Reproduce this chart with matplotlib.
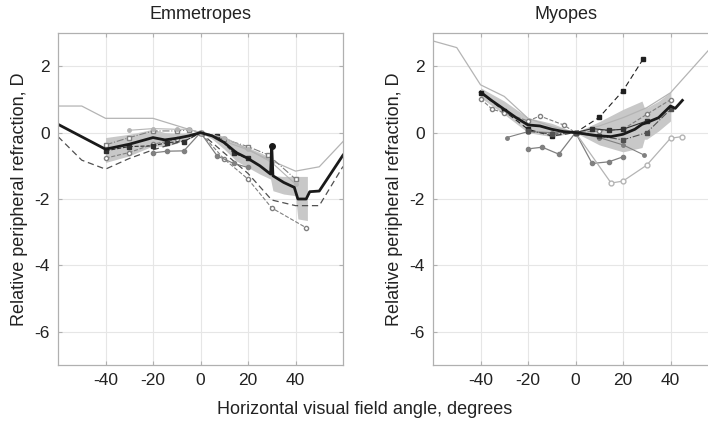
import matplotlib
matplotlib.use("Agg")
import matplotlib.pyplot as plt

plt.rcParams['font.family'] = ['Liberation Sans', 'DejaVu Sans']
plt.rcParams['axes.unicode_minus'] = False

# ---- Emmetropes ----
em_mean_x = [-60, -40, -30, -20, -15, -10, -5, 0, 5, 10, 15, 20, 25, 29.5, 30, 30.5, 35, 39.5, 41, 44.5, 46, 50, 60]
em_mean_y = [0.25, -0.5, -0.35, -0.15, -0.22, -0.17, -0.1, 0, -0.1, -0.3, -0.6, -0.78, -1.0, -1.25, -0.4, -1.3, -1.5, -1.65, -2.0, -2.0, -1.78, -1.76, -0.68]
em_band_x = [-40, -30, -20, -15, -10, -5, 0, 5, 10, 15, 20, 25, 29.5, 30.5, 35, 40, 41, 45]
em_band_hi = [-0.15, -0.05, 0.1, 0.0, -0.02, 0.0, 0, -0.05, -0.12, -0.3, -0.45, -0.6, -0.75, -1.3, -1.32, -1.32, -1.32, -1.32]
em_band_lo = [-0.9, -0.7, -0.4, -0.42, -0.32, -0.15, 0, -0.2, -0.5, -0.85, -1.05, -1.25, -1.4, -1.75, -1.85, -1.9, -2.6, -2.65]

em_up_x = [-60, -50, -40, -20, -5, 0, 20, 30, 40, 50, 60]
em_up_y = [0.8, 0.8, 0.43, 0.43, 0.1, 0, -0.52, -0.85, -1.16, -1.03, -0.27]
em_low_x = [-60, -50, -40, -30, -20, -5, 0, 20, 30, 40, 50, 60]
em_low_y = [-0.12, -0.83, -1.1, -0.78, -0.52, -0.2, 0, -1.23, -2.03, -2.2, -2.2, -1.02]
em_oc_x = [-40, -30, -20, -10, 0, 10, 20, 30, 44.6]
em_oc_y = [-0.77, -0.6, -0.35, -0.2, 0, -0.8, -1.4, -2.27, -2.87]
em_gd_x = [-20, -14, -7, 0, 7, 14, 20]
em_gd_y = [-0.61, -0.56, -0.55, 0, -0.7, -0.93, -1.05]
em_bs_x = [-40, -30, -20, -14, -7, 0, 7, 14, 20]
em_bs_y = [-0.55, -0.42, -0.4, -0.3, -0.27, 0, -0.1, -0.62, -0.78]
em_gs_x = [-40, -30, -20, -10, -5, 0, 10, 20, 28.5, 40]
em_gs_y = [-0.37, -0.15, 0.05, 0.05, 0.08, 0, -0.2, -0.42, -0.67, -1.4]
em_sd_x = [-30, -20, -10, -5, 0, 10, 20, 30, 40]
em_sd_y = [0.07, 0.12, 0.1, 0.1, 0, -0.15, -0.5, -0.9, -1.55]

# ---- Myopes ----
my_mean_x = [-40, -35, -30, -25, -20, -15, -10, -5, 0, 5, 10, 15, 20, 25, 28, 30, 35, 40, 42, 45]
my_mean_y = [1.22, 0.95, 0.7, 0.45, 0.23, 0.2, 0.1, 0.03, 0, -0.05, -0.1, -0.12, -0.05, 0.1, 0.25, 0.3, 0.45, 0.8, 0.73, 0.97]
my_band_x = [-40, -30, -20, -10, 0, 10, 20, 28, 29, 30, 35, 40]
my_band_hi = [1.35, 0.95, 0.45, 0.28, 0, 0.33, 0.7, 0.95, 0.75, 0.75, 0.95, 1.22]
my_band_lo = [1.05, 0.55, 0.0, -0.12, 0, -0.37, -0.58, -0.45, -0.2, -0.2, 0.05, 0.35]

my_up_x = [-60, -50, -40, -30, -20, -10, 0, 10, 20, 30, 40, 50, 60]
my_up_y = [2.76, 2.56, 1.44, 1.09, 0.43, 0.18, 0, 0.2, 0.45, 0.75, 1.2, 2.0, 2.8]
my_bs_x = [-40, -30, -20, -10, 0, 10, 20, 28.6]
my_bs_y = [1.2, 0.65, 0.1, -0.1, 0, 0.46, 1.26, 2.23]
my_gd_x = [-20, -14, -7, 0, 7, 14, 20]
my_gd_y = [-0.49, -0.44, -0.65, 0, -0.93, -0.88, -0.73]
my_oc_x = [0, 15, 20, 30, 40, 45]
my_oc_y = [0, -1.52, -1.46, -0.98, -0.17, -0.12]
my_sd_x = [-29, -20, -10, 0, 10, 20, 29]
my_sd_y = [-0.15, 0.03, 0.0, 0, -0.15, -0.37, -0.68]
my_oc2_x = [-40, -35, -30, -20, -15, -5, 0, 10, 20, 30, 40]
my_oc2_y = [1.02, 0.7, 0.6, 0.35, 0.5, 0.23, 0, 0.05, 0.1, 0.55, 0.99]
my_sq_x = [0, 7, 14, 20, 30]
my_sq_y = [0, 0.12, 0.07, 0.1, 0.35]
my_sq2_x = [-20, -10, 0, 10, 20, 30, 40]
my_sq2_y = [0.05, -0.05, 0, -0.1, -0.22, 0.0, 0.7]

xticks = [-40, -20, 0, 20, 40]
yticks = [-6, -4, -2, 0, 2]

fig = plt.figure(figsize=(7.08, 4.22), dpi=100)
ax1 = fig.add_axes([58 / 708, 1 - 365 / 422, 285 / 708, 332 / 422])
ax2 = fig.add_axes([433 / 708, 1 - 365 / 422, 285 / 708, 332 / 422])

LG = '#b4b4b4'
MG = '#808080'
DG = '#505050'


def style(ax, title):
    ax.set_xlim(-60, 60)
    ax.set_ylim(-7, 3)
    ax.set_xticks(xticks)
    ax.set_yticks(yticks)
    ax.grid(True, color='#e6e6e6', lw=0.8)
    ax.set_axisbelow(True)
    for s in ax.spines.values():
        s.set_color('#b0b0b0')
        s.set_linewidth(0.9)
    ax.tick_params(direction='in', top=True, right=True, length=3, color='#b0b0b0',
                   labelsize=12.5, labelcolor='#222222', pad=6)
    ax.set_title(title, fontsize=13, color='#222222', pad=10)
    ax.set_ylabel('Relative peripheral refraction, D', fontsize=13, color='#222222')


# Emmetropes
ax1.fill_between(em_band_x, em_band_lo, em_band_hi, color='#c8c8c8', lw=0)
ax1.plot(em_up_x, em_up_y, color=LG, lw=0.9)
ax1.plot(em_low_x, em_low_y, color=DG, lw=0.9, ls=(0, (5, 3)))
ax1.plot(em_oc_x, em_oc_y, color=MG, lw=0.8, ls='--', marker='o', mfc='white', ms=3)
ax1.plot(em_gd_x, em_gd_y, color=MG, lw=0.9, marker='o', ms=3)
ax1.plot(em_bs_x, em_bs_y, color='#303030', lw=0.8, ls='--', marker='s', ms=3)
ax1.plot(em_gs_x, em_gs_y, color=MG, lw=0.8, ls='-.', marker='s', mfc='white', ms=3)
ax1.plot(em_sd_x, em_sd_y, color=LG, lw=0.8, marker='o', ms=2.5)
ax1.plot(em_mean_x, em_mean_y, color='#1a1a1a', lw=2, marker='o', ms=4, markevery=[14])
style(ax1, 'Emmetropes')
ax1.yaxis.set_label_coords(-0.105, 0.5)

# Myopes
ax2.fill_between(my_band_x, my_band_lo, my_band_hi, color='#c8c8c8', lw=0)
ax2.plot(my_up_x, my_up_y, color=LG, lw=0.9)
ax2.plot(my_bs_x, my_bs_y, color='#202020', lw=0.8, ls=(0, (5, 3)), marker='s', ms=3)
ax2.plot(my_gd_x, my_gd_y, color=MG, lw=0.9, marker='o', ms=3)
ax2.plot(my_oc_x, my_oc_y, color=LG, lw=0.9, marker='o', mfc='white', ms=3.5)
ax2.plot(my_sd_x, my_sd_y, color=MG, lw=0.8, marker='o', ms=2.5)
ax2.plot(my_oc2_x, my_oc2_y, color=MG, lw=0.8, ls='--', marker='o', mfc='white', ms=3)
ax2.plot(my_sq_x, my_sq_y, color='#303030', lw=0.8, marker='s', ms=3)
ax2.plot(my_sq2_x, my_sq2_y, color=DG, lw=0.8, ls='-.', marker='s', ms=3)
ax2.plot(my_mean_x, my_mean_y, color='#1a1a1a', lw=2)
style(ax2, 'Myopes')
ax2.title.set_position((0.465, 1.0))
ax2.yaxis.set_label_coords(-0.105, 0.5)

fig.text(365 / 708, 1 - 410 / 422, 'Horizontal visual field angle, degrees',
         ha='center', va='center', fontsize=13, color='#222222')

fig.savefig('out.png', dpi=100)
